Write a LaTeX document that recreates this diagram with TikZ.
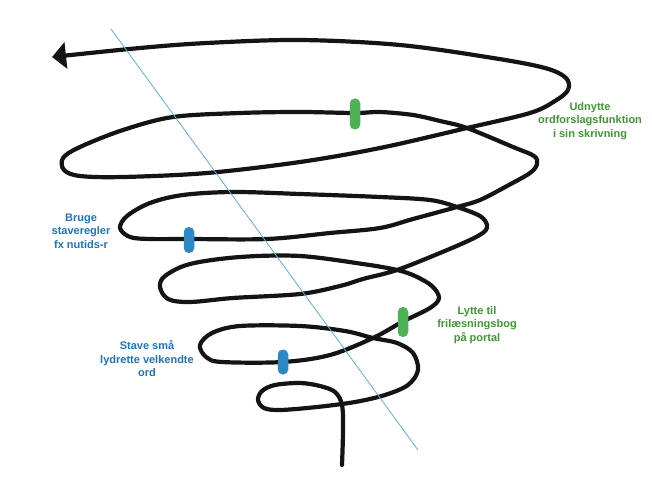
\documentclass[tikz,border=0pt]{standalone}
\usepackage{fontspec}
\setmainfont{Liberation Sans}
\usepackage{xcolor}
\usetikzlibrary{arrows.meta}

\definecolor{markgreen}{RGB}{76,178,84}
\definecolor{textgreen}{RGB}{64,150,52}
\definecolor{markblue}{RGB}{43,136,196}
\definecolor{textblue}{RGB}{30,115,186}
\definecolor{axisblue}{RGB}{96,172,222}

\begin{document}
\begin{tikzpicture}
  [x=1pt,y=-1pt,
   every node/.style={font=\fontsize{11}{13.5}\selectfont\bfseries,align=center},
   spiral/.style={line width=4.2pt,color=black!92,line cap=round,line join=round},
   blob/.style={rectangle,rounded corners=5pt,minimum width=10.5pt,minimum height=28pt,inner sep=0pt}]
  \useasboundingbox (0,0) rectangle (652,489);

  \draw[spiral,-{Triangle[length=14pt,width=26pt]}] plot[smooth,tension=0.55] coordinates {
    (342,465) (343,430) (342,405) (335,392) (320,386) (300,383) (275,385) (262,391)
    (258,400) (264,408) (280,410) (317,407) (355,402) (385,395) (408,385) (418,370)
    (413,353) (397,343) (373,338) (345,331) (300,326) (240,326) (212,333) (200,345)
    (206,357) (222,362) (283,362) (330,355) (373,338) (402,322) (430,308) (439,298)
    (432,286) (415,276) (397,270) (363,264) (300,256) (240,257) (190,264) (165,276)
    (160,287) (168,299) (190,302) (233,298) (300,294) (340,286) (363,279) (397,270)
    (440,253) (470,240) (484,232) (487,225) (480,216) (457,207) (430,200) (380,197)
    (300,194) (233,192) (183,195) (150,203) (127,216) (120,228) (130,237) (150,239)
    (189,239) (267,239) (330,233) (380,228) (413,219) (457,207) (480,200) (507,186)
    (530,173) (537,164) (534,156) (513,147) (467,128) (440,121) (413,115) (380,112)
    (355,113) (300,112) (240,113) (173,117) (123,130) (80,147) (63,158) (64,170)
    (80,176) (123,177) (207,173) (300,162) (380,148) (467,128) (530,113) (555,101)
    (568,90) (566,78) (545,68) (493,58) (400,45) (300,40) (207,43) (140,48) (52,57)};

  \coordinate (top) at (111,29);
  \coordinate (bot) at (418,450);
  \draw[axisblue,line width=0.8pt] (top) -- (bot);

  \node[blob,fill=markgreen,minimum height=31pt] (m1) at (355,114) {};
  \node[blob,fill=markblue,minimum height=26pt] (m2) at (189,240) {};
  \node[blob,fill=markgreen,minimum height=30pt] (m3) at (403,322) {};
  \node[blob,fill=markblue,minimum height=25pt] (m4) at (283,362) {};

  \node[textgreen] (t1) at (590,121) {Udnytte\\ordforslagsfunktion\\i sin skrivning};
  \node[textblue] (t2) at (81,231) {Bruge\\staveregler\\fx nutids-r};
  \node[textgreen] (t3) at (477,325) {Lytte til\\frilæsningsbog\\på portal};
  \node[textblue] (t4) at (147,359) {Stave små\\lydrette velkendte\\ord};

\end{tikzpicture}
\end{document}
